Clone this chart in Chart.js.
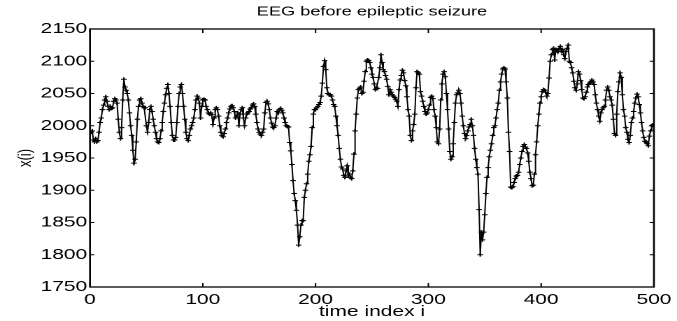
<!DOCTYPE html>
<html>
<head>
<meta charset="utf-8">
<script src="https://cdn.jsdelivr.net/npm/chart.js@4/dist/chart.umd.min.js"></script>
<style>
  html, body { margin: 0; padding: 0; background: #fff; overflow: hidden; }
  #wrap { width: 677px; height: 321px; overflow: hidden; }
  /* the figure is laid out narrow and stretched sideways to its final width */
  #c { transform: scaleX(1.3988); transform-origin: 0 0; display: block; }
</style>
</head>
<body>
<div id="wrap"><canvas id="c" width="484" height="321"></canvas></div>
<script>
// EEG samples x(i), i = 1..500
const eeg = [
  1990, 1992, 1978, 1975, 1980, 1975, 1977, 1990, 2005, 2012,
  2025, 2032, 2040, 2045, 2038, 2030, 2025, 2030, 2027, 2028,
  2038, 2042, 2040, 2035, 2010, 1990, 1980, 1997, 2040, 2072,
  2060, 2055, 2050, 2040, 2020, 2000, 1985, 1962, 1942, 1948,
  1975, 2010, 2030, 2040, 2042, 2035, 2030, 2028, 2028, 2000,
  1990, 2005, 2025, 2030, 2022, 2010, 2000, 1990, 1980, 1975,
  1974, 1980, 1992, 2005, 2022, 2035, 2048, 2058, 2064, 2050,
  2030, 2005, 1985, 1978, 1978, 1982, 2005, 2030, 2050, 2060,
  2064, 2050, 2030, 2010, 1990, 1980, 1977, 1985, 1995, 2000,
  2005, 2012, 2025, 2040, 2046, 2043, 2035, 2012, 2030, 2040,
  2041, 2040, 2030, 2025, 2020, 2018, 2020, 2017, 2002, 2012,
  2025, 2028, 2025, 2015, 2000, 1990, 1985, 1983, 1988, 1995,
  2005, 2012, 2020, 2026, 2030, 2031, 2028, 2022, 2012, 2015,
  2020, 2000, 2018, 2025, 2028, 2012, 2000, 2012, 2018, 2020,
  2022, 2026, 2028, 2032, 2034, 2030, 2018, 2005, 1995, 1990,
  1987, 1985, 1990, 1995, 2020, 2036, 2038, 2034, 2025, 2012,
  2004, 1998, 1997, 2000, 2012, 2022, 2020, 2025, 2027, 2024,
  2020, 2012, 2005, 2000, 1999, 1998, 1974, 1961, 1940, 1915,
  1895, 1884, 1869, 1846, 1815, 1828, 1846, 1853, 1853, 1889,
  1900, 1910, 1925, 1945, 1955, 1968, 1997, 2018, 2025, 2025,
  2028, 2030, 2033, 2036, 2046, 2066, 2092, 2101, 2087, 2059,
  2050, 2048, 2048, 2046, 2040, 2033, 2030, 2015, 2000, 1985,
  1965, 1948, 1936, 1933, 1923, 1920, 1930, 1938, 1922, 1925,
  1920, 1918, 1930, 1956, 1992, 2018, 2043, 2056, 2058, 2060,
  2050, 2052, 2069, 2084, 2100, 2102, 2101, 2098, 2090, 2080,
  2075, 2065, 2056, 2058, 2058, 2075, 2090, 2110, 2098, 2087,
  2084, 2078, 2072, 2061, 2048, 2056, 2052, 2048, 2046, 2044,
  2041, 2038, 2030, 2056, 2071, 2078, 2086, 2082, 2070, 2062,
  2045, 2025, 2015, 1985, 1977, 1992, 2002, 2018, 2059, 2084,
  2082, 2080, 2053, 2046, 2038, 2030, 2022, 2018, 2020, 2025,
  2032, 2044, 2046, 2042, 2025, 2015, 1997, 1975, 1972, 1995,
  2040, 2065, 2080, 2084, 2076, 2050, 2025, 1995, 1960, 1948,
  1952, 1972, 2005, 2035, 2048, 2051, 2055, 2050, 2035, 2015,
  2000, 1988, 1980, 1985, 1992, 1998, 2002, 2010, 2000, 1985,
  1965, 1948, 1935, 1925, 1870, 1800, 1835, 1823, 1835, 1862,
  1895, 1920, 1935, 1952, 1962, 1972, 1985, 1997, 2000, 2012,
  2025, 2035, 2055, 2068, 2080, 2088, 2090, 2088, 2068, 2043,
  1990, 1960, 1905, 1904, 1906, 1912, 1918, 1922, 1923, 1928,
  1940, 1950, 1960, 1968, 1971, 1967, 1965, 1958, 1945, 1928,
  1918, 1907, 1908, 1925, 1955, 1975, 2000, 2018, 2035, 2045,
  2053, 2056, 2055, 2052, 2046, 2050, 2074, 2100, 2110, 2118,
  2120, 2102, 2118, 2116, 2115, 2120, 2123, 2115, 2118, 2110,
  2104, 2115, 2120, 2125, 2100, 2098, 2090, 2082, 2069, 2059,
  2055, 2065, 2084, 2080, 2070, 2056, 2043, 2042, 2045, 2052,
  2060, 2064, 2066, 2068, 2071, 2068, 2064, 2048, 2035, 2025,
  2015, 2007, 2020, 2025, 2028, 2030, 2040, 2055, 2060, 2055,
  2045, 2040, 2032, 2010, 1988, 1985, 2018, 2053, 2068, 2082,
  2075, 2048, 2025, 2015, 1997, 1990, 1979, 1974, 1985, 2005,
  2012, 2022, 2035, 2043, 2049, 2045, 2033, 2020, 2005, 1992,
  1982, 1976, 1975, 1972, 1969, 1984, 1992, 2000, 2001, 2002
];

const xTicks = [0, 100, 200, 300, 400, 500];
const yTicks = [1750, 1800, 1850, 1900, 1950, 2000, 2050, 2100, 2150];

const points = eeg.map((v, i) => ({ x: i + 1, y: v }));

const FONT = 'Liberation Sans, Arial, Helvetica, sans-serif';

// box around the axes with inward tick marks on all four sides
const boxTicks = {
  id: 'boxTicks',
  afterDatasetsDraw(chart) {
    const { ctx, chartArea: a, scales } = chart;
    const sx = scales.x, sy = scales.y;
    ctx.save();
    ctx.strokeStyle = '#000';
    ctx.lineWidth = 1.3;
    ctx.strokeRect(a.left, a.top, a.right - a.left, a.bottom - a.top);
    ctx.lineWidth = 1;
    ctx.beginPath();
    xTicks.forEach(v => {
      const px = sx.getPixelForValue(v);
      ctx.moveTo(px, a.bottom); ctx.lineTo(px, a.bottom - 4);
      ctx.moveTo(px, a.top); ctx.lineTo(px, a.top + 4);
    });
    yTicks.forEach(v => {
      const py = sy.getPixelForValue(v);
      ctx.moveTo(a.left, py); ctx.lineTo(a.left + 3, py);
      ctx.moveTo(a.right, py); ctx.lineTo(a.right - 3, py);
    });
    ctx.stroke();
    ctx.restore();
  }
};

new Chart(document.getElementById('c'), {
  type: 'line',
  data: {
    datasets: [{
      data: points,
      borderColor: '#000',
      borderWidth: 1,
      tension: 0,
      pointStyle: 'cross',
      pointRadius: 2,
      pointBorderWidth: 1,
      pointBorderColor: '#000',
      pointBackgroundColor: '#000'
    }]
  },
  options: {
    responsive: false,
    animation: false,
    devicePixelRatio: 2,
    layout: { padding: { left: 0, right: 15.4, top: 0, bottom: 0 } },
    plugins: {
      legend: { display: false },
      tooltip: { enabled: false },
      title: {
        display: true,
        text: 'EEG before epileptic seizure',
        fullSize: false,
        color: '#000',
        font: { family: FONT, size: 13, weight: 'normal', lineHeight: 1.2 },
        padding: { top: 4, bottom: 9.4 }
      }
    },
    scales: {
      x: {
        type: 'linear',
        min: 0, max: 500,
        grid: { display: false, drawTicks: false },
        border: { display: false },
        afterBuildTicks: s => { s.ticks = xTicks.map(v => ({ value: v })); },
        afterFit: s => { s.height = 34; },
        ticks: {
          color: '#000', padding: 4, maxRotation: 0, autoSkip: false,
          font: { family: FONT, size: 15 },
          callback: v => String(v)
        },
        title: {
          display: true, text: 'time index i', color: '#000',
          font: { family: FONT, size: 15, lineHeight: 1.2 },
          padding: { top: 0, bottom: 0 }
        }
      },
      y: {
        type: 'linear',
        min: 1750, max: 2150,
        grid: { display: false, drawTicks: false },
        border: { display: false },
        afterBuildTicks: s => { s.ticks = yTicks.map(v => ({ value: v })); },
        afterFit: s => { s.width = 64.34; },
        ticks: {
          color: '#000', padding: 2, autoSkip: false,
          font: { family: FONT, size: 15 },
          callback: v => String(v)
        },
        title: {
          display: true, text: 'x(i)', color: '#000',
          font: { family: FONT, size: 13, lineHeight: 1.2 },
          padding: { top: 10.4, bottom: 0 }
        }
      }
    }
  },
  plugins: [boxTicks]
});
</script>
</body>
</html>
